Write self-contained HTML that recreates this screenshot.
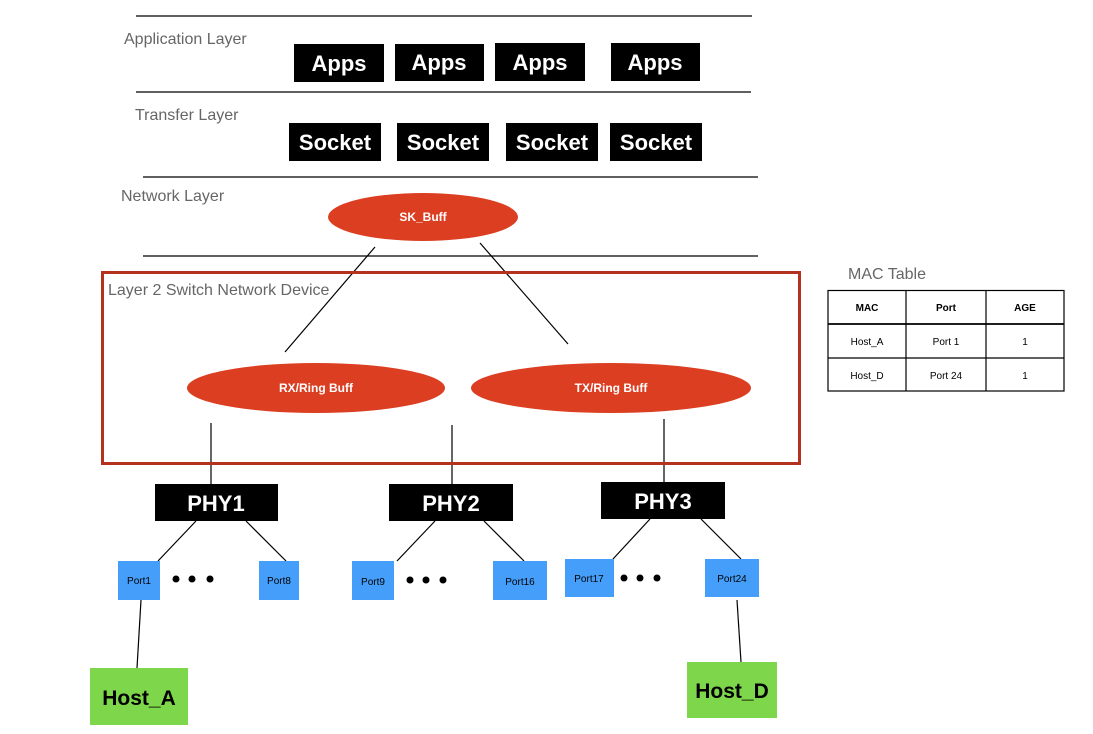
<!DOCTYPE html>
<html><head><meta charset="utf-8"><style>
html,body{margin:0;padding:0;background:#fff;}
svg{display:block;font-family:"Liberation Sans",Arial,sans-serif;}
</style></head><body>
<svg width="1093" height="734" viewBox="0 0 1093 734" xmlns="http://www.w3.org/2000/svg">
<g stroke="#000" stroke-width="1.2">
<line x1="136" y1="16" x2="752" y2="16"/>
<line x1="136" y1="92" x2="751" y2="92"/>
<line x1="143" y1="177" x2="758" y2="177"/>
<line x1="143" y1="256" x2="758" y2="256"/>
</g>
<g fill="#666" font-size="16">
<text x="124" y="44">Application Layer</text>
<text x="135" y="120">Transfer Layer</text>
<text x="121" y="201">Network Layer</text>
<text x="108" y="295">Layer 2 Switch Network Device</text>
<text x="848" y="279" font-size="16">MAC Table</text>
</g>
<g fill="#000">
<rect x="294" y="44" width="90" height="38"/><rect x="395" y="44" width="89" height="37"/>
<rect x="495" y="43" width="90" height="38"/><rect x="611" y="43" width="89" height="38"/>
<rect x="289" y="123" width="92" height="38"/><rect x="397" y="123" width="92" height="38"/>
<rect x="506" y="123" width="92" height="38"/><rect x="610" y="123" width="92" height="38"/>
<rect x="155" y="484" width="123" height="37"/><rect x="389" y="484" width="124" height="37"/>
<rect x="601" y="482" width="124" height="37"/>
</g>
<g fill="#fff" font-weight="bold" font-size="22" text-anchor="middle">
<text x="339" y="71">Apps</text><text x="439" y="70">Apps</text>
<text x="540" y="70">Apps</text><text x="655" y="70">Apps</text>
<text x="335" y="150">Socket</text><text x="443" y="150">Socket</text>
<text x="552" y="150">Socket</text><text x="656" y="150">Socket</text>
<text x="216" y="511">PHY1</text><text x="451" y="511">PHY2</text><text x="663" y="509">PHY3</text>
</g>
<g stroke="#000" stroke-width="1.2">
<line x1="375" y1="247" x2="285" y2="352"/>
<line x1="480" y1="243" x2="568" y2="344"/>
<line x1="211" y1="423" x2="211" y2="484"/>
<line x1="452" y1="425" x2="452" y2="484"/>
<line x1="664" y1="419" x2="664" y2="482"/>
<line x1="196" y1="521" x2="158" y2="561"/><line x1="246" y1="521" x2="286" y2="561"/>
<line x1="435" y1="521" x2="397" y2="561"/><line x1="484" y1="521" x2="524" y2="561"/>
<line x1="650" y1="519" x2="613" y2="559"/><line x1="701" y1="519" x2="741" y2="559"/>
<line x1="141" y1="600" x2="137" y2="668"/>
<line x1="737" y1="600" x2="741" y2="662"/>
</g>
<rect x="102.5" y="272.5" width="697" height="191" fill="none" stroke="#b5321f" stroke-width="3"/>
<g fill="#dc3e22">
<ellipse cx="423" cy="217" rx="95" ry="24"/>
<ellipse cx="316" cy="388" rx="129" ry="25"/>
<ellipse cx="611" cy="388" rx="140" ry="25"/>
</g>
<g fill="#fff" font-weight="bold" font-size="12" text-anchor="middle">
<text x="423" y="221">SK_Buff</text>
<text x="316" y="392">RX/Ring Buff</text>
<text x="611" y="392">TX/Ring Buff</text>
</g>
<g fill="#459ffa">
<rect x="118" y="561" width="42" height="39"/><rect x="259" y="561" width="40" height="39"/>
<rect x="352" y="561" width="42" height="39"/><rect x="493" y="561" width="54" height="39"/>
<rect x="565" y="559" width="49" height="38"/><rect x="705" y="559" width="54" height="38"/>
</g>
<g fill="#000" font-size="10" text-anchor="middle">
<text x="139" y="584">Port1</text><text x="279" y="584">Port8</text>
<text x="373" y="585">Port9</text><text x="520" y="585">Port16</text>
<text x="589" y="582">Port17</text><text x="732" y="582">Port24</text>
</g>
<g fill="#000">
<circle cx="176" cy="579" r="3.5"/><circle cx="192" cy="579" r="3.5"/><circle cx="210" cy="579" r="3.5"/>
<circle cx="410" cy="580" r="3.5"/><circle cx="426" cy="580" r="3.5"/><circle cx="443" cy="580" r="3.5"/>
<circle cx="624" cy="578" r="3.5"/><circle cx="640" cy="578" r="3.5"/><circle cx="657" cy="578" r="3.5"/>
</g>
<rect x="90" y="668" width="98" height="57" fill="#7ed64b"/>
<rect x="687" y="662" width="90" height="56" fill="#7ed64b"/>
<g fill="#000" font-weight="bold" font-size="21" text-anchor="middle">
<text x="139" y="705">Host_A</text><text x="732" y="698">Host_D</text>
</g>
<g stroke="#000" stroke-width="1.2" fill="none">
<rect x="828" y="290.5" width="236" height="100.5"/>
<line x1="906" y1="290" x2="906" y2="391"/>
<line x1="986" y1="290" x2="986" y2="391"/>
<line x1="828" y1="324" x2="1064" y2="324" stroke-width="1.8"/>
<line x1="828" y1="358" x2="1064" y2="358"/>
</g>
<g fill="#000" font-size="10" text-anchor="middle">
<text x="867" y="311" font-weight="bold">MAC</text>
<text x="946" y="311" font-weight="bold">Port</text>
<text x="1025" y="311" font-weight="bold">AGE</text>
<text x="867" y="345">Host_A</text><text x="946" y="345">Port 1</text><text x="1025" y="345">1</text>
<text x="867" y="379">Host_D</text><text x="946" y="379">Port 24</text><text x="1025" y="379">1</text>
</g>
</svg>
</body></html>
